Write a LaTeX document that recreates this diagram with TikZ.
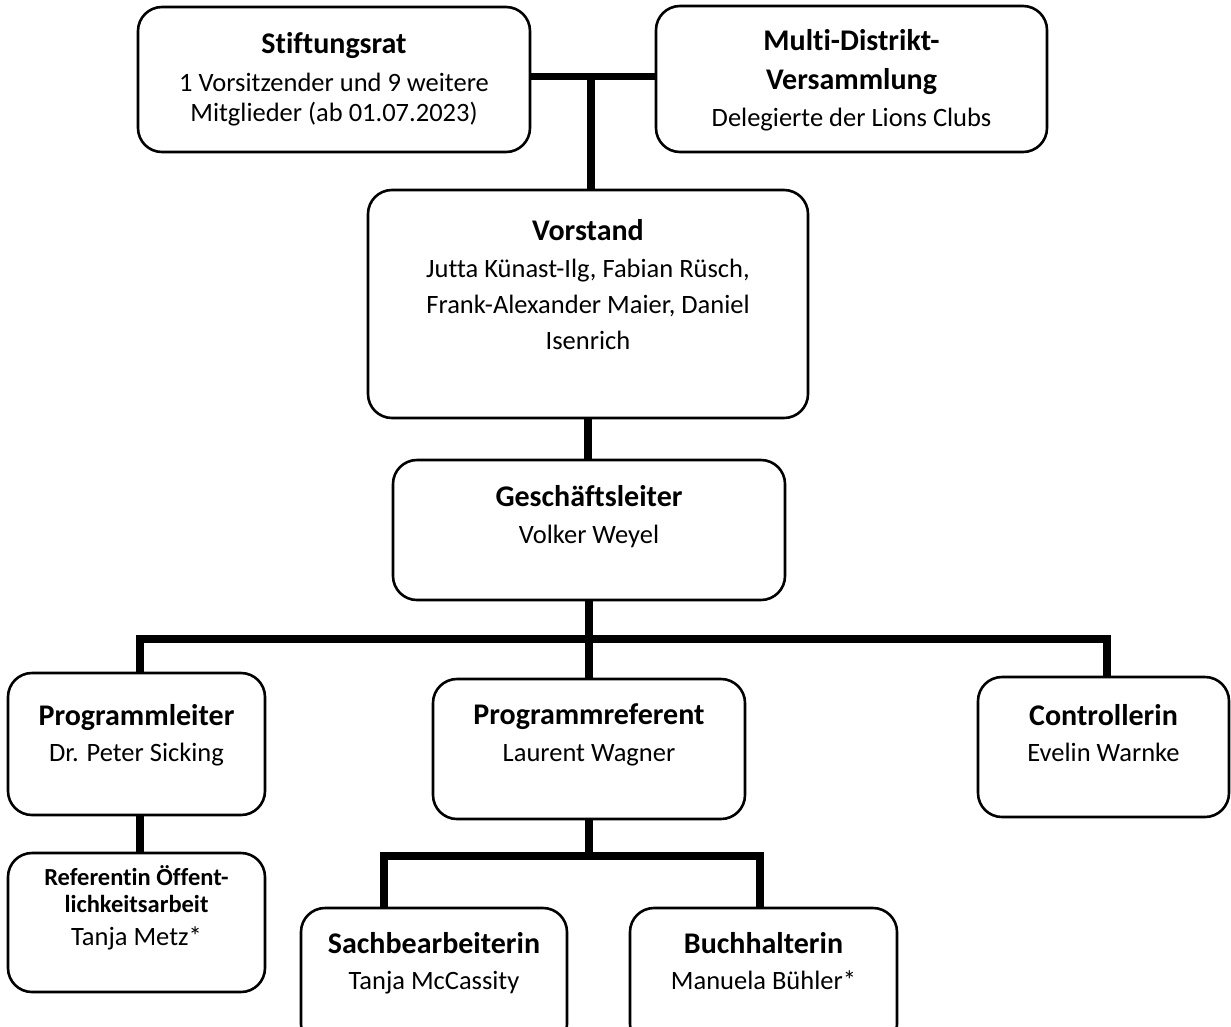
\documentclass[tikz,border=0pt]{standalone}
\usepackage{fontspec}
\setmainfont{Carlito}[Ligatures=CommonOff]
\newcommand\ttlf{\fontsize{30}{36}\selectfont\bfseries}
\newcommand\ttls{\fontsize{24.5}{27}\selectfont\bfseries}
\begin{document}
\begin{tikzpicture}[x=1pt,y=-1pt,
  box/.style={draw, fill=white, line width=2.6pt, rounded corners=24pt, inner sep=0pt, outer sep=0pt},
  txt/.style={align=center, anchor=base, inner sep=0pt, font=\fontsize{26.5}{36}\selectfont},
  conn/.style={line width=7.5pt}
]
\fill[white] (0,0) rectangle (1231,1026);
\useasboundingbox (0,0) rectangle (1231,1026);
\clip (0,0) rectangle (1231,1026);

% boxes
\node[box, minimum width=392pt, minimum height=145pt] (sr) at (334,79.5) {};
\node[box, minimum width=391pt, minimum height=146pt] (md) at (851.5,79) {};
\node[box, minimum width=440pt, minimum height=228pt] (vs) at (588,304) {};
\node[box, minimum width=392pt, minimum height=140pt] (gl) at (589,530) {};
\node[box, minimum width=257pt, minimum height=142pt] (pl) at (136.5,744) {};
\node[box, minimum width=312pt, minimum height=140pt] (pr) at (589,749) {};
\node[box, minimum width=251pt, minimum height=140pt] (ct) at (1103.5,747) {};
\node[box, minimum width=257pt, minimum height=139pt] (ro) at (136.5,922.5) {};
\node[box, minimum width=266pt, minimum height=140pt] (sb) at (434,978) {};
\node[box, minimum width=267pt, minimum height=140pt] (bh) at (763.5,978) {};

% texts (anchor base = baseline of the last line)
\node[txt, font=\fontsize{26.5}{30}\selectfont] (srT) at ([yshift=-114pt]sr.north) {{\ttlf Stiftungsrat}\\[8pt]1 Vorsitzender und 9 weitere\\Mitglieder (ab 01.07.2023)};
\node[txt, font=\fontsize{26.5}{37}\selectfont] (mdT) at ([yshift=-120pt]md.north) {{\ttlf Multi-Distrikt-}\\[2pt]{\ttlf Versammlung}\\Delegierte der Lions Clubs};
\node[txt] (vsT) at ([yshift=-159pt]vs.north) {{\ttlf Vorstand}\\[1pt]Jutta Künast-Ilg, Fabian Rüsch,\\Frank-Alexander Maier, Daniel\\Isenrich};
\node[txt, font=\fontsize{26.5}{37}\selectfont] (glT) at ([yshift=-83pt]gl.north) {{\ttlf Geschäftsleiter}\\Volker Weyel};
\node[txt] (plT) at ([yshift=-88pt]pl.north) {{\ttlf Programmleiter}\\Dr. Peter Sicking};
\node[txt, font=\fontsize{26.5}{37}\selectfont] (prT) at ([yshift=-82pt]pr.north) {{\ttlf Programmreferent}\\Laurent Wagner};
\node[txt] (ctT) at ([yshift=-84pt]ct.north) {{\ttlf Controllerin}\\Evelin Warnke};
\node[txt, font=\fontsize{26.5}{27}\selectfont] (roT) at ([yshift=-92pt]ro.north) {{\ttls Referentin Öffent-}\\{\ttls lichkeitsarbeit}\\[6pt]Tanja Metz*};
\node[txt] (sbT) at ([yshift=-81pt]sb.north) {{\ttlf Sachbearbeiterin}\\Tanja McCassity};
\node[txt] (bhT) at ([yshift=-81pt]bh.north) {{\ttlf Buchhalterin}\\Manuela Bühler*};

% connectors
\coordinate (topbar) at (591,76.5);
\coordinate (bus) at (589,639);
\coordinate (sub) at (589,856);
\draw[conn] (topbar -| sr.east) -- (topbar -| md.west);
\draw[conn] (topbar) -- (topbar |- vs.north);
\draw[conn] (vs.south) -- (vs.south |- gl.north);
\draw[conn] (gl.south) -- (gl.south |- bus);
\draw[conn] ([xshift=3.5pt]pl.north) -- ([xshift=3.5pt]pl.north |- bus) -- ([xshift=3.5pt]ct.north |- bus) -- ([xshift=3.5pt]ct.north);
\draw[conn] (bus) -- (pr.north);
\draw[conn] ([xshift=3.5pt]pl.south) -- ([xshift=3.5pt]ro.north);
\draw[conn] (pr.south) -- (pr.south |- sub);
\draw[conn] ([xshift=-50pt]sb.north) -- ([xshift=-50pt]sb.north |- sub) -- ([xshift=-3.5pt]bh.north |- sub) -- ([xshift=-3.5pt]bh.north);
\end{tikzpicture}
\end{document}
